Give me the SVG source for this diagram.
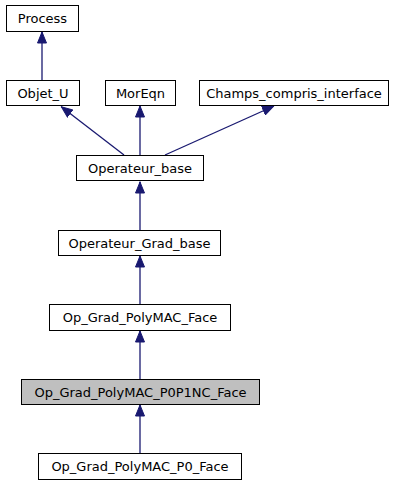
<svg xmlns="http://www.w3.org/2000/svg" width="403" height="485" viewBox="0 0 403 485">
<defs>
<style>
.n rect{fill:#fff;stroke:#000;stroke-width:1}
.n.h rect{fill:#bfbfbf}
.n text{font-family:"DejaVu Sans",sans-serif;font-size:13px;fill:#000;text-anchor:middle}
.e line{stroke:#191970;stroke-width:1.3}
</style>
<marker id="a" viewBox="0 0 12 10" refX="12" refY="5" markerWidth="12" markerHeight="10" markerUnits="userSpaceOnUse" orient="auto">
<path d="M0.5,0.5 L11.5,5 L0.5,9.5 Z" fill="#191970" stroke="#191970"/>
</marker>
</defs>
<rect width="403" height="485" fill="#fff"/>
<g id="edges" class="e">
<line x1="42" y1="80" x2="42" y2="31.5" marker-end="url(#a)"/>
<line x1="124" y1="155" x2="61" y2="106.5" marker-end="url(#a)"/>
<line x1="140" y1="155" x2="140" y2="105.5" marker-end="url(#a)"/>
<line x1="165" y1="155" x2="274" y2="106" marker-end="url(#a)"/>
<line x1="140" y1="230" x2="140" y2="181.5" marker-end="url(#a)"/>
<line x1="140" y1="304" x2="140" y2="255.5" marker-end="url(#a)"/>
<line x1="140" y1="379" x2="140" y2="330.5" marker-end="url(#a)"/>
<line x1="140" y1="453" x2="140" y2="404.5" marker-end="url(#a)"/>
</g>
<g id="Process" class="n"><rect x="6.5" y="5.5" width="72" height="26"/><text x="42.5" y="23">Process</text></g>
<g id="Objet_U" class="n"><rect x="6.5" y="80.5" width="73" height="25"/><text x="43" y="97.5">Objet_U</text></g>
<g id="MorEqn" class="n"><rect x="105.5" y="80.5" width="70" height="25"/><text x="140.5" y="97.5">MorEqn</text></g>
<g id="Champs_compris_interface" class="n"><rect x="199.5" y="80.5" width="189" height="25"/><text x="294" y="97.5">Champs_compris_interface</text></g>
<g id="Operateur_base" class="n"><rect x="76.5" y="155.5" width="127" height="25"/><text x="140" y="172.5">Operateur_base</text></g>
<g id="Operateur_Grad_base" class="n"><rect x="58.5" y="230.5" width="162" height="25"/><text x="139.5" y="247.5">Operateur_Grad_base</text></g>
<g id="Op_Grad_PolyMAC_Face" class="n"><rect x="49.5" y="304.5" width="181" height="26"/><text x="140" y="322">Op_Grad_PolyMAC_Face</text></g>
<g id="Op_Grad_PolyMAC_P0P1NC_Face" class="n h"><rect x="21.5" y="379.5" width="238" height="25"/><text x="140.5" y="396.5">Op_Grad_PolyMAC_P0P1NC_Face</text></g>
<g id="Op_Grad_PolyMAC_P0_Face" class="n"><rect x="38.5" y="453.5" width="203" height="26"/><text x="140" y="471">Op_Grad_PolyMAC_P0_Face</text></g>
</svg>
